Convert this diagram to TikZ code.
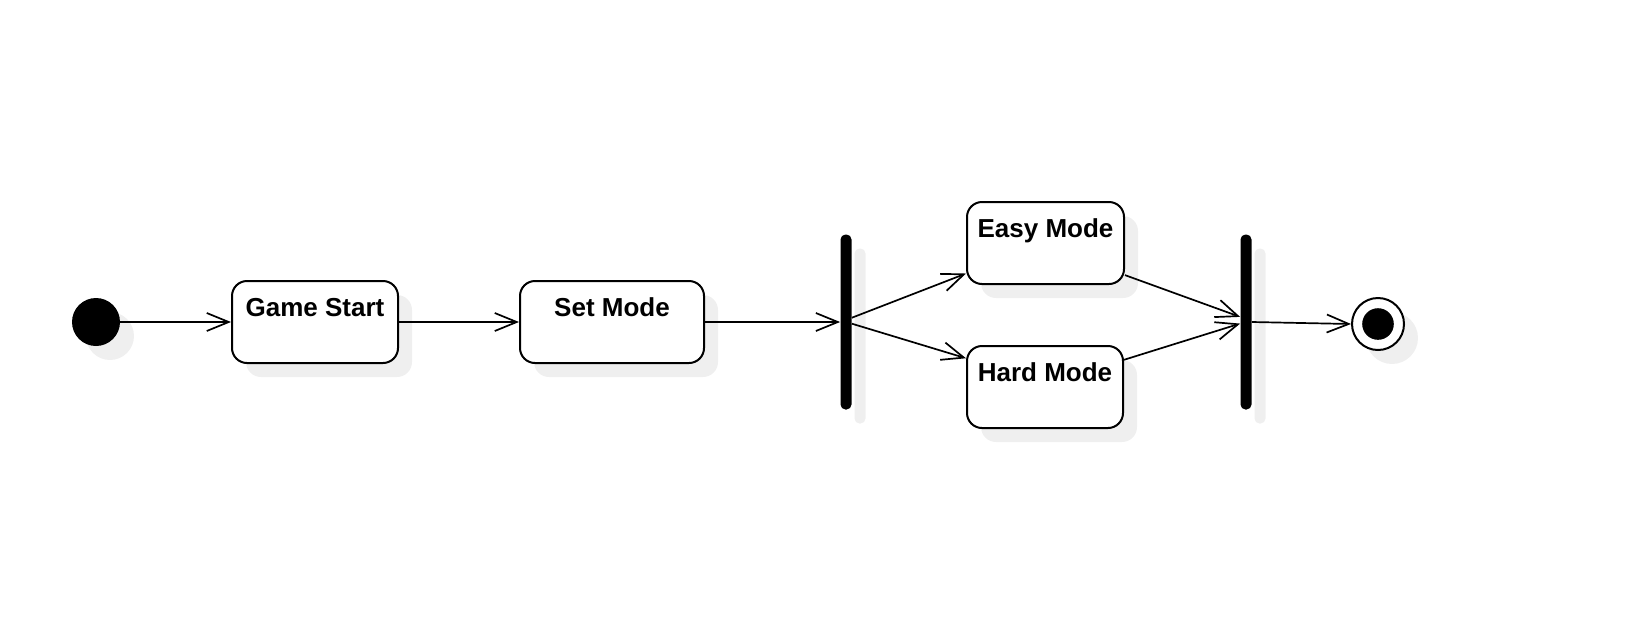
\documentclass[tikz,border=0pt]{standalone}
\usepackage{fontspec}
\setmainfont{Liberation Sans}
\usetikzlibrary{arrows.meta,shadows}
\definecolor{shadowgray}{RGB}{239,239,239}

\begin{document}
\begin{tikzpicture}[x=0.5pt, y=-0.5pt,
        lifted/.style={drop shadow={shadow xshift=7pt, shadow yshift=-7pt, fill=shadowgray, opacity=1}},
        state/.style={draw, line width=1pt, rounded corners=7.5pt, fill=white, inner sep=0pt,
            minimum width=#1, text height=17.5pt, text depth=23.5pt,
            font=\bfseries\fontsize{13}{15}\selectfont, lifted},
        bar/.style={fill=black, rounded corners=2.5pt, minimum width=5.5pt, minimum height=87.5pt,
            inner sep=0pt, lifted},
        flow/.style={-{Straight Barb[length=11pt,width=9pt]}, line width=0.85pt}]
        \useasboundingbox (0, 0) rectangle (1648, 638);

        \node[circle, fill=black, minimum size=24pt, inner sep=0pt, lifted] (init) at (96, 322) {};
        \node[state=83pt] (gamestart) at (315, 322) {Game Start};
        \node[state=92pt] (setmode) at (612, 322) {Set Mode};
        \node[bar] (fork) at (846, 322) {};
        \node[state=78.5pt] (easy) at (1045.5, 243) {Easy Mode};
        \node[state=78pt] (hard) at (1045, 387) {Hard Mode};
        \node[bar] (join) at (1246, 322) {};
        \node[circle, draw, line width=1pt, fill=white, minimum size=26pt, inner sep=0pt, lifted] (final) at (1378, 324) {};
        \node[circle, fill=black, minimum size=15.8pt, inner sep=0pt] (finaldot) at (final) {};

        \draw[flow] (init.east) -- (gamestart.west);
        \draw[flow] (gamestart.east) -- (setmode.west);
        \draw[flow] (setmode.east) -- (fork.west);
        \draw[flow] (fork.36) -- (easy.201.6);
        \draw[flow] (fork.-16) -- (hard.160.8);
        \draw[flow] (easy.338.7) -- (join.139);
        \draw[flow] (hard.19) -- (join.195);
        \draw[flow] (join.east) -- (final.west);
    \end{tikzpicture}
\end{document}
